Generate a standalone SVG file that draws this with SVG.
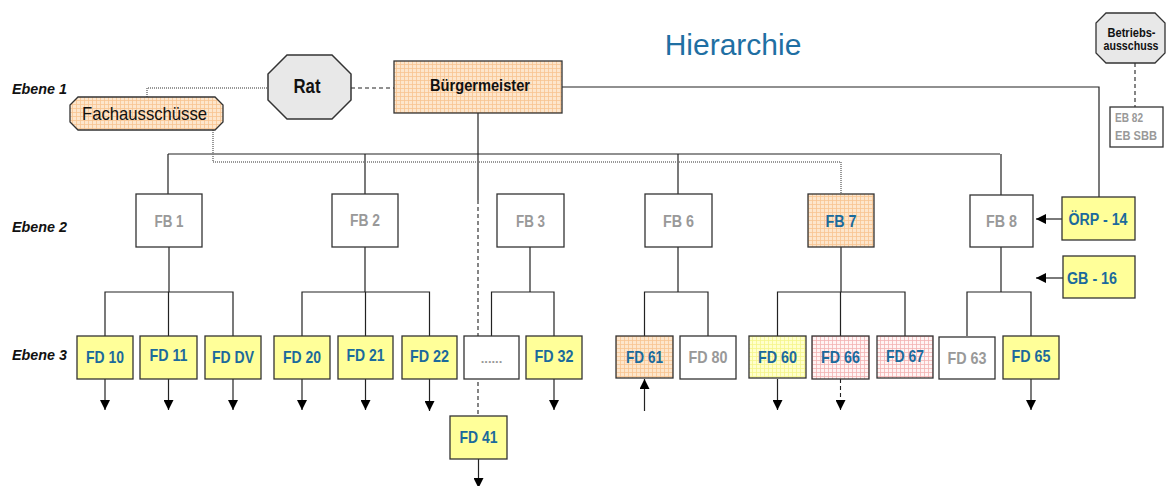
<svg xmlns="http://www.w3.org/2000/svg" width="1166" height="486" viewBox="0 0 1166 486">
<defs>
<pattern id="peach" width="4" height="4" patternUnits="userSpaceOnUse">
<rect width="4" height="4" fill="#fde6cc"/>
<path d="M0 0.5H4M0.5 0V4" stroke="#f7c490" stroke-width="0.8"/>
</pattern>
<pattern id="pink" width="4" height="4" patternUnits="userSpaceOnUse">
<rect width="4" height="4" fill="#fff4f4"/>
<path d="M0 0.5H4M0.5 0V4" stroke="#f2b2b2" stroke-width="0.8"/>
</pattern>
<pattern id="ylw" width="4" height="4" patternUnits="userSpaceOnUse">
<rect width="4" height="4" fill="#ffffcc"/>
<path d="M0 0.5H4M0.5 0V4" stroke="#f5f58a" stroke-width="0.8"/>
</pattern>
<marker id="ah" viewBox="0 0 10 10" refX="10" refY="5" markerWidth="10" markerHeight="10" markerUnits="userSpaceOnUse" orient="auto">
<path d="M0 0L10 5L0 10Z" fill="#000"/>
</marker>
<style>
text{font-family:"Liberation Sans",Arial,sans-serif}
.lbl{font-weight:bold;font-style:italic;font-size:15px;fill:#111}
.box{stroke:#333;stroke-width:1.3}
.w{fill:#fff}
.y{fill:#ffff99}
.t{font-weight:bold;text-anchor:middle}
.fd{font-size:17px}
.fb{font-size:16px}
.b{fill:#1b6a9c}
.g{fill:#999}
.ln{stroke:#222;stroke-width:1.2;fill:none}
.dash{stroke:#222;stroke-width:1.1;fill:none;stroke-dasharray:4 3}
.dot{stroke:#777;stroke-width:1.5;fill:none;stroke-dasharray:1 1}
</style>
</defs>
<rect width="1166" height="486" fill="#fff"/>
<text x="733" y="55" font-size="30" fill="#1f6fa3" text-anchor="middle">Hierarchie</text>
<text class="lbl" x="12" y="94" textLength="55" lengthAdjust="spacingAndGlyphs">Ebene 1</text>
<text class="lbl" x="12" y="232" textLength="55" lengthAdjust="spacingAndGlyphs">Ebene 2</text>
<text class="lbl" x="12" y="360" textLength="55" lengthAdjust="spacingAndGlyphs">Ebene 3</text>

<g id="connectors">
<path class="dot" d="M147 97V88H268"/>
<path class="dash" d="M351 88H394"/>
<path class="ln" d="M562 87H1099V197"/>
<path class="ln" d="M478 113V200" stroke-width="1.8"/>
<path class="dash" d="M478 200V416"/>
<path class="ln" d="M168 154H1000"/>
<path class="ln" d="M168 154V194M365 154V194M678 154V194M1001 154V195"/>
<path class="dot" d="M213 130V162H841V194"/>
<path class="dash" d="M1135 63V107"/>
<path class="ln" d="M105 336V292H233V336M168.5 292V336" stroke-width="1.4"/>
<path class="ln" d="M169 247V292" stroke-width="2"/>
<path class="ln" d="M365 247V292M302 336V292H429.5V336M365.5 292V336"/>
<path class="ln" d="M530 247V292M491.5 336V292H554V336"/>
<path class="ln" d="M678 247V292M644.5 336V292H708V336"/>
<path class="ln" d="M841 247V292M777.5 336V292H905V336M840.5 292V336"/>
<path class="ln" d="M967 336V292H1031V336"/>
<path class="ln" d="M1001 247V292" stroke-width="2"/>
<path class="ln" d="M1062 219H1036" marker-end="url(#ah)"/>
<path class="ln" d="M1063 278H1036" marker-end="url(#ah)"/>
<path class="ln" d="M105 379V410" marker-end="url(#ah)"/>
<path class="ln" d="M168.5 379V410" marker-end="url(#ah)"/>
<path class="ln" d="M233 379V410" marker-end="url(#ah)"/>
<path class="ln" d="M302 379V410" marker-end="url(#ah)"/>
<path class="ln" d="M365.5 379V410" marker-end="url(#ah)"/>
<path class="ln" d="M429.5 379V411" marker-end="url(#ah)"/>
<path class="ln" d="M554 379V410" marker-end="url(#ah)"/>
<path class="ln" d="M644.5 411V379" marker-end="url(#ah)"/>
<path class="ln" d="M777.5 379V410" marker-end="url(#ah)"/>
<path class="dash" d="M840.5 379V410" marker-end="url(#ah)"/>
<path class="ln" d="M1031 379V410" marker-end="url(#ah)"/>
<path class="ln" d="M478.5 459V488" marker-end="url(#ah)"/>
</g>

<g id="fachausschuesse">
<path class="box" d="M78 97H215L223 105V122L215 130H78L70 122V105Z" fill="url(#peach)"/>
<text x="144.5" y="120" font-size="19" text-anchor="middle" fill="#111" textLength="125" lengthAdjust="spacingAndGlyphs">Fachausschüsse</text>
</g>
<g id="rat">
<path d="M287 55H332L351 74V100L332 119H287L268 100V74Z" fill="#e8e8e8" stroke="#333" stroke-width="1.5"/>
<text class="t" x="307" y="93" font-size="20" fill="#111" textLength="27" lengthAdjust="spacingAndGlyphs">Rat</text>
</g>
<g id="buergermeister">
<rect class="box" x="394" y="61" width="168" height="52" fill="url(#peach)"/>
<text class="t" x="480" y="91" font-size="17" fill="#111" textLength="100" lengthAdjust="spacingAndGlyphs">Bürgermeister</text>
</g>
<g id="betriebsausschuss">
<path d="M1106 13H1155L1165 23V53L1155 63H1106L1096 53V23Z" fill="#e8e8e8" stroke="#333" stroke-width="1.3"/>
<text class="t" x="1131.5" y="37" font-size="12.5" fill="#111" textLength="48" lengthAdjust="spacingAndGlyphs">Betriebs-</text>
<text class="t" x="1131" y="50" font-size="12.5" fill="#111" textLength="55" lengthAdjust="spacingAndGlyphs">ausschuss</text>
</g>
<g id="eb">
<rect class="box w" x="1110" y="107" width="53" height="40"/>
<text x="1115" y="122" font-weight="bold" font-size="13" fill="#999" textLength="28" lengthAdjust="spacingAndGlyphs">EB 82</text>
<text x="1115" y="140" font-weight="bold" font-size="13" fill="#999" textLength="42" lengthAdjust="spacingAndGlyphs">EB SBB</text>
</g>

<g id="fb1"><rect class="box w" x="136" y="194" width="66" height="53"/><text class="t fb g" x="169" y="227" textLength="29" lengthAdjust="spacingAndGlyphs">FB 1</text></g>
<g id="fb2"><rect class="box w" x="332" y="194" width="66" height="53"/><text class="t fb g" x="365" y="226" textLength="30" lengthAdjust="spacingAndGlyphs">FB 2</text></g>
<g id="fb3"><rect class="box w" x="497" y="194" width="67" height="53"/><text class="t fb g" x="530.5" y="227" textLength="29" lengthAdjust="spacingAndGlyphs">FB 3</text></g>
<g id="fb6"><rect class="box w" x="645" y="194" width="67" height="53"/><text class="t fb g" x="678.5" y="227" textLength="31" lengthAdjust="spacingAndGlyphs">FB 6</text></g>
<g id="fb7"><rect class="box" x="808" y="194" width="66" height="53" fill="url(#peach)"/><text class="t fb b" x="841" y="227" textLength="31" lengthAdjust="spacingAndGlyphs">FB 7</text></g>
<g id="fb8"><rect class="box w" x="970" y="195" width="63" height="52"/><text class="t fb g" x="1001.5" y="227" textLength="31" lengthAdjust="spacingAndGlyphs">FB 8</text></g>
<g id="oerp14"><rect class="box y" x="1062" y="197" width="73" height="43"/><text class="t fb b" x="1098" y="225" textLength="59" lengthAdjust="spacingAndGlyphs">ÖRP - 14</text></g>
<g id="gb16"><rect class="box y" x="1063" y="256" width="72" height="42"/><text class="t fb b" x="1092" y="284" textLength="50" lengthAdjust="spacingAndGlyphs">GB - 16</text></g>

<g id="fd10"><rect class="box y" x="77" y="336" width="56" height="43"/><text class="t fd b" x="105" y="363" textLength="38" lengthAdjust="spacingAndGlyphs">FD 10</text></g>
<g id="fd11"><rect class="box y" x="140" y="336" width="57" height="43"/><text class="t fd b" x="168.5" y="361" textLength="38" lengthAdjust="spacingAndGlyphs">FD 11</text></g>
<g id="fddv"><rect class="box y" x="205" y="336" width="56" height="43"/><text class="t fd b" x="233" y="363" textLength="42" lengthAdjust="spacingAndGlyphs">FD DV</text></g>
<g id="fd20"><rect class="box y" x="274" y="336" width="56" height="43"/><text class="t fd b" x="302" y="363" textLength="38" lengthAdjust="spacingAndGlyphs">FD 20</text></g>
<g id="fd21"><rect class="box y" x="338" y="336" width="55" height="43"/><text class="t fd b" x="365.5" y="361" textLength="38" lengthAdjust="spacingAndGlyphs">FD 21</text></g>
<g id="fd22"><rect class="box y" x="402" y="336" width="55" height="43"/><text class="t fd b" x="429.5" y="362" textLength="39" lengthAdjust="spacingAndGlyphs">FD 22</text></g>
<g id="fddots"><rect class="box w" x="464" y="336" width="55" height="43"/><text class="t g" x="491.5" y="363" font-size="13" font-weight="normal">......</text></g>
<g id="fd32"><rect class="box y" x="526" y="336" width="56" height="43"/><text class="t fd b" x="554" y="362" textLength="39" lengthAdjust="spacingAndGlyphs">FD 32</text></g>
<g id="fd61"><rect class="box" x="616" y="336" width="57" height="42" fill="url(#peach)"/><text class="t fd b" x="644.5" y="363" textLength="37" lengthAdjust="spacingAndGlyphs">FD 61</text></g>
<g id="fd80"><rect class="box w" x="680" y="336" width="56" height="43"/><text class="t fd g" x="708" y="363" textLength="39" lengthAdjust="spacingAndGlyphs">FD 80</text></g>
<g id="fd60"><rect class="box" x="749" y="336" width="57" height="42" fill="url(#ylw)"/><text class="t fd b" x="777.5" y="363" textLength="39" lengthAdjust="spacingAndGlyphs">FD 60</text></g>
<g id="fd66"><rect class="box" x="812" y="336" width="57" height="43" fill="url(#pink)"/><text class="t fd b" x="840.5" y="363" textLength="39" lengthAdjust="spacingAndGlyphs">FD 66</text></g>
<g id="fd67"><rect class="box" x="877" y="336" width="56" height="42" fill="url(#pink)" stroke="#777"/><text class="t fd b" x="905" y="362" textLength="38" lengthAdjust="spacingAndGlyphs">FD 67</text></g>
<g id="fd63"><rect class="box w" x="939" y="337" width="56" height="42"/><text class="t fd g" x="967" y="364" textLength="39" lengthAdjust="spacingAndGlyphs">FD 63</text></g>
<g id="fd65"><rect class="box y" x="1003" y="336" width="56" height="43"/><text class="t fd b" x="1031" y="362" textLength="39" lengthAdjust="spacingAndGlyphs">FD 65</text></g>
<g id="fd41"><rect class="box y" x="450" y="416" width="57" height="43"/><text class="t fd b" x="478.5" y="443" textLength="38" lengthAdjust="spacingAndGlyphs">FD 41</text></g>
</svg>
